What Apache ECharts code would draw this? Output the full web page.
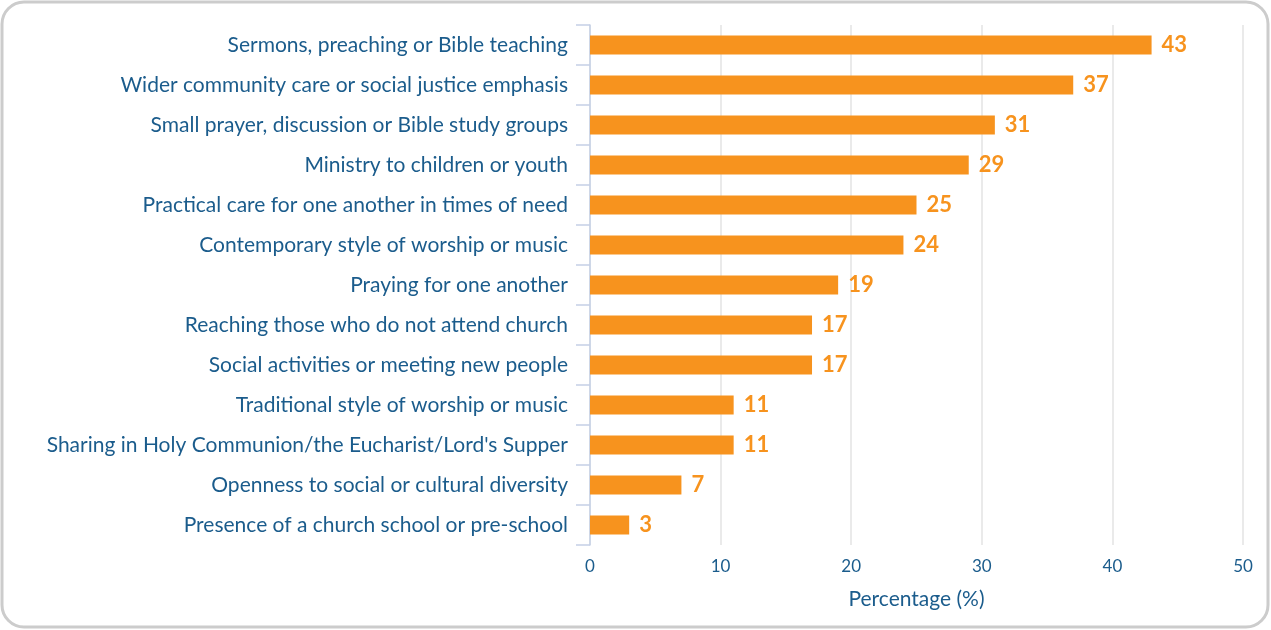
<!DOCTYPE html>
<html><head><meta charset="utf-8">
<script src="https://cdn.jsdelivr.net/npm/echarts@6/dist/echarts.min.js"></script>
<style>html,body{margin:0;padding:0;background:#fff}#c{width:1271px;height:630px}</style>
</head><body><div id="c"></div>
<script>
const categories = [
  "Sermons, preaching or Bible teaching",
  "Wider community care or social justice emphasis",
  "Small prayer, discussion or Bible study groups",
  "Ministry to children or youth",
  "Practical care for one another in times of need",
  "Contemporary style of worship or music",
  "Praying for one another",
  "Reaching those who do not attend church",
  "Social activities or meeting new people",
  "Traditional style of worship or music",
  "Sharing in Holy Communion/the Eucharist/Lord's Supper",
  "Openness to social or cultural diversity",
  "Presence of a church school or pre-school"
];
const values = [43, 37, 31, 29, 25, 24, 19, 17, 17, 11, 11, 7, 3];
const xTicks = { min: 0, max: 50, interval: 10 };
const xName = "Percentage (%)";

const chart = echarts.init(document.getElementById('c'));
chart.setOption({
  animation: false,
  graphic: [{
    type: 'rect',
    shape: { x: 2, y: 2, width: 1266, height: 625, r: 22 },
    style: { fill: 'none', stroke: '#cccccc', lineWidth: 3 },
    silent: true
  }],
  grid: { left: 590, right: 28, top: 25, bottom: 85, containLabel: false },
  xAxis: {
    type: 'value', min: xTicks.min, max: xTicks.max, interval: xTicks.interval,
    name: xName, nameLocation: 'middle', nameGap: 44,
    nameTextStyle: { color: '#1b5c8c', fontFamily: 'Lato', fontSize: 21 },
    axisLine: { show: false }, axisTick: { show: false },
    axisLabel: { color: '#1b5c8c', fontFamily: 'Lato', fontSize: 17, margin: 13 },
    splitLine: { show: true, lineStyle: { color: '#e3e3e3', width: 1.5 } }
  },
  yAxis: {
    type: 'category', data: categories, inverse: true,
    axisLine: { show: true, lineStyle: { color: '#c5d0e6', width: 1.5 } },
    axisTick: { show: true, length: 14, lineStyle: { color: '#c5d0e6', width: 1.5 } },
    axisLabel: { color: '#1b5c8c', fontFamily: 'Lato', fontSize: 21, margin: 22 }
  },
  series: [{
    type: 'bar', data: values, barWidth: 19,
    itemStyle: { color: '#f7931e' },
    label: {
      show: true, position: 'right', distance: 10,
      color: '#f7931e', fontFamily: 'Lato', fontWeight: 'bold', fontSize: 22
    }
  }]
});
</script></body></html>
